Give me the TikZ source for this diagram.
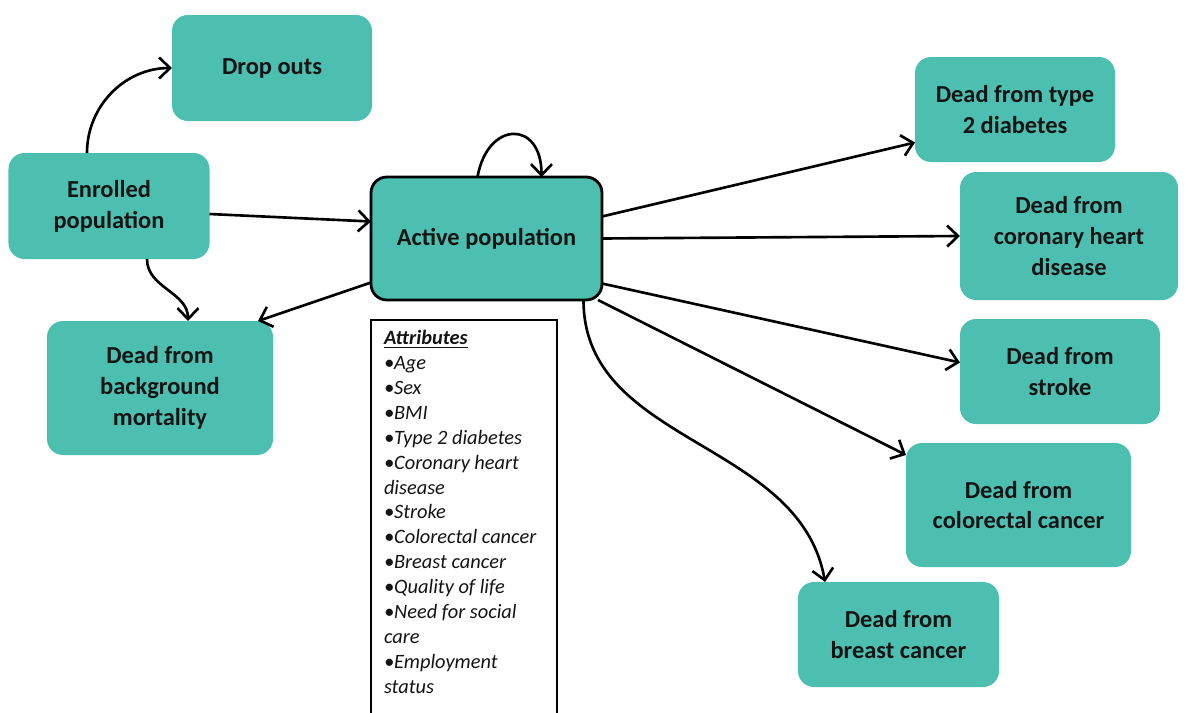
\documentclass[tikz,border=0pt]{standalone}
\usepackage{fontspec}
\setmainfont{Carlito}
\usetikzlibrary{arrows.meta, calc, positioning}
\definecolor{stateteal}{HTML}{4DBFB1}
\definecolor{inkgray}{HTML}{141414}

\begin{document}
\begin{tikzpicture}[
  every node/.style={outer sep=0pt},
  statebox/.style={fill=stateteal, rounded corners=0.32cm, align=center,
    text=inkgray, font=\bfseries\fontsize{13.9}{17.6}\selectfont},
  activebox/.style={statebox, draw=black, line width=1.6pt},
  attrbox/.style={draw=black, line width=0.7pt, fill=white},
  flow/.style={draw=black, line width=1.5pt,
    -{Straight Barb[length=2.2mm, width=4.2mm, line width=1.5pt]}}
]
\useasboundingbox (0,0) rectangle (23.84,-14.26);

% Left side states
\node[statebox, minimum width=4.0cm, minimum height=2.12cm] (dropouts) at (5.44,-1.36) {Drop outs};
\node[statebox, minimum width=4.02cm, minimum height=2.12cm] (enrolled) at (2.18,-4.12) {Enrolled\\population};
\node[statebox, minimum width=4.52cm, minimum height=2.68cm] (background) at (3.20,-7.76) {Dead from\\background\\mortality};

% Central state
\node[activebox, minimum width=4.62cm, minimum height=2.46cm] (active) at (9.73,-4.77) {Active population};

% Attributes list (runs off the bottom edge)
\draw[attrbox] (7.42,-14.6) |- (11.14,-6.40) -- (11.14,-14.6);
\node[anchor=north west, align=left, inner sep=0pt, text=inkgray,
  font=\itshape\fontsize{11.6}{14.2}\selectfont] (attrs) at (7.68,-6.60)
  {{\bfseries\underline{Attributes}}\\
   \textbullet Age\\
   \textbullet Sex\\
   \textbullet BMI\\
   \textbullet Type 2 diabetes\\
   \textbullet Coronary heart\\
   disease\\
   \textbullet Stroke\\
   \textbullet Colorectal cancer\\
   \textbullet Breast cancer\\
   \textbullet Quality of life\\
   \textbullet Need for social\\
   care\\
   \textbullet Employment\\
   status};

% Right side states
\node[statebox, minimum width=4.0cm, minimum height=2.1cm] (diabetes) at (20.30,-2.19) {Dead from type\\2 diabetes};
\node[statebox, minimum width=4.36cm, minimum height=2.56cm] (chd) at (21.38,-4.72) {Dead from\\coronary heart\\disease};
\node[statebox, minimum width=4.0cm, minimum height=2.1cm] (stroke) at (21.20,-7.43) {Dead from\\stroke};
\node[statebox, minimum width=4.5cm, minimum height=2.48cm] (colorectal) at (20.37,-10.10) {Dead from\\colorectal cancer};
\node[statebox, minimum width=4.02cm, minimum height=2.1cm] (breast) at (17.97,-12.69) {Dead from\\breast cancer};

% Transitions
\draw[flow] ([xshift=-0.44cm]enrolled.north) to[out=90, in=180] (dropouts.west);
\draw[flow] ([yshift=-0.16cm]enrolled.east) -- ([yshift=0.34cm]active.west);
\draw[flow] ([xshift=0.76cm]enrolled.south) to[out=-90, in=90] ([xshift=0.56cm]background.north);
\draw[flow] ([yshift=-0.88cm]active.west) -- ([xshift=-0.3cm]background.north east);
\draw[flow] ([xshift=-0.18cm]active.north) to[out=80, in=90, looseness=2.3] ([xshift=1.1cm]active.north);

\draw[flow] ([yshift=0.44cm]active.east) -- ([yshift=-0.66cm]diabetes.west);
\draw[flow] (active.east) -- (chd.west);
\draw[flow] ([yshift=-0.9cm]active.east) -- ([yshift=0.18cm]stroke.west);
\draw[flow] ([xshift=-0.08cm]active.south east) -- ([yshift=-0.24cm]colorectal.north west);
\draw[flow] ([xshift=1.94cm]active.south) to[out=-90, in=100] ([xshift=0.54cm]breast.north west);

\end{tikzpicture}
\end{document}
